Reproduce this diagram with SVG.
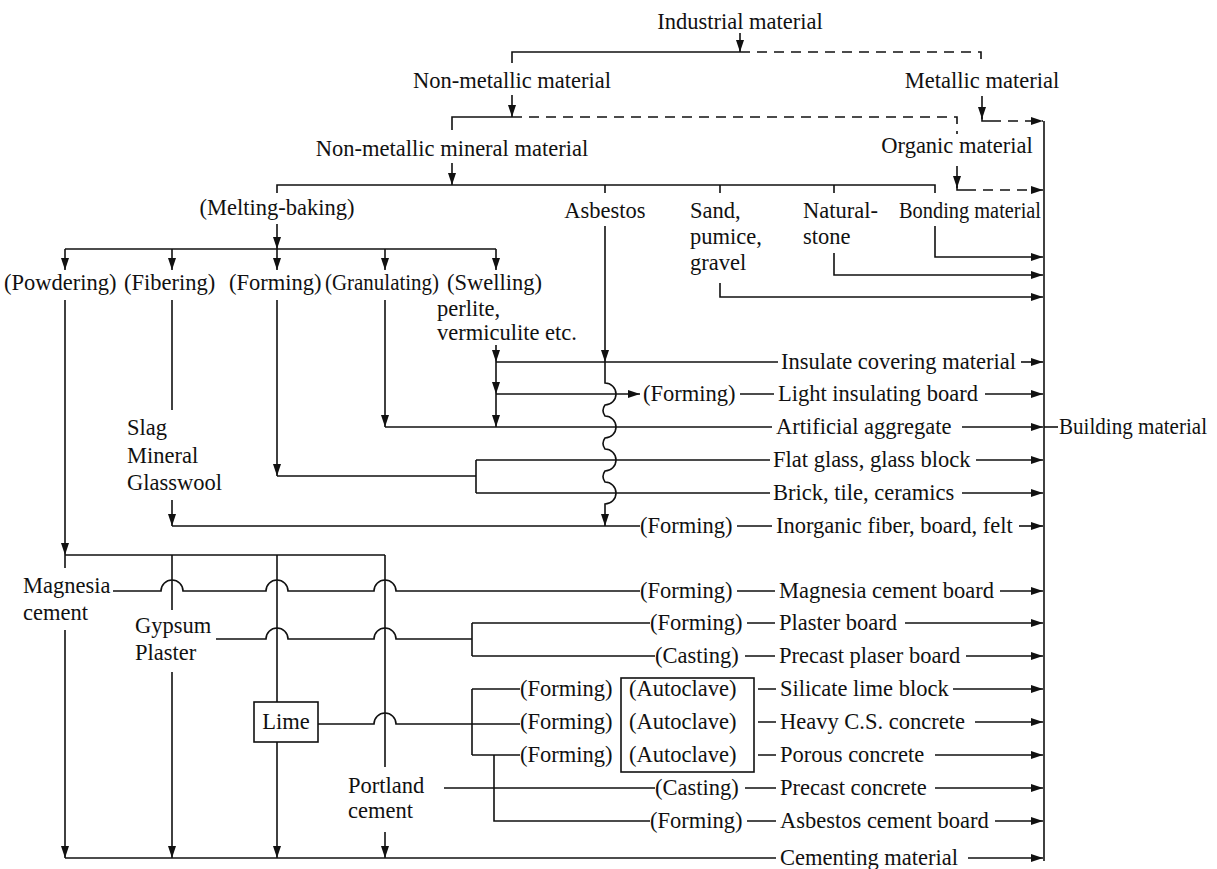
<svg xmlns="http://www.w3.org/2000/svg" width="1217" height="869" viewBox="0 0 1217 869">
<defs>
<marker id="ah" viewBox="0 0 12 8" refX="12" refY="4" markerWidth="12" markerHeight="8" markerUnits="userSpaceOnUse" orient="auto"><path d="M0,0 L12,4 L0,8 z" fill="#111"/></marker>
<style>
text{font-family:"Liberation Serif","Times New Roman",serif;font-size:22.5px;fill:#111}
.c{text-anchor:middle}
.ln{fill:none;stroke:#111;stroke-width:1.6}
.ar{fill:none;stroke:#111;stroke-width:1.6;marker-end:url(#ah)}
.ds{fill:none;stroke:#111;stroke-width:1.6;stroke-dasharray:10 7}
.dsa{fill:none;stroke:#111;stroke-width:1.6;stroke-dasharray:10 7;marker-end:url(#ah)}
.box{fill:none;stroke:#111;stroke-width:1.6}
</style>
</defs>
<rect width="1217" height="869" fill="#fff"/>

<g id="connectors">
<!-- top levels -->
<path class="ar" d="M740,33 V52"/>
<path class="ln" d="M512,63 V52 H740"/>
<path class="ds" d="M740,52 H981 V64"/>
<path class="ar" d="M512,95 V117"/>
<path class="ln" d="M452,130 V117 H512"/>
<path class="ds" d="M512,117 H957 V134"/>
<path class="ar" d="M982,96 V119"/>
<path class="ln" d="M982,117 V121 H991"/>
<path class="dsa" d="M991,121 H1043"/>
<path class="ar" d="M452,163 V185"/>
<path class="ar" d="M957,166 V188"/>
<path class="ln" d="M957,186 V190 H966"/>
<path class="dsa" d="M966,190 H1043"/>
<!-- mineral row -->
<path class="ln" d="M277,193 V185 H935 V193"/>
<path class="ln" d="M605,185 V193 M720,185 V193 M834,185 V193"/>
<path class="ar" d="M277,224 V249"/>
<path class="ln" d="M65,249 H496"/>
<path class="ar" d="M65,249 V270"/>
<path class="ar" d="M172,249 V270"/>
<path class="ar" d="M277,249 V270"/>
<path class="ar" d="M385,249 V270"/>
<path class="ar" d="M496,249 V270"/>
<path class="ar" d="M935,226 V257 H1043"/>
<path class="ar" d="M834,253 V275 H1043"/>
<path class="ar" d="M720,283 V297 H1043"/>
<!-- asbestos -->
<path class="ar" d="M605,226 V362"/>
<path class="ar" d="M605,362 V383 A11,11 0 0 1 605,405 Q601,410.5 605,416 A11,11 0 0 1 605,438 Q601,443.5 605,449 A11,11 0 0 1 605,471 Q601,476.5 605,482 A11,11 0 0 1 605,504 V526"/>
<!-- swelling -->
<path class="ar" d="M496,345 V362"/>
<path class="ar" d="M496,362 V394"/>
<path class="ar" d="M496,394 V427"/>
<path class="ln" d="M496,362 H778"/>
<path class="ar" d="M496,394 H640"/>
<path class="ln" d="M740,394 H774"/>
<!-- granulating -->
<path class="ar" d="M385,300 V427"/>
<path class="ln" d="M385,427 H772"/>
<path class="ln" d="M1044,427 H1058"/>
<!-- forming -->
<path class="ar" d="M277,300 V476"/>
<path class="ln" d="M277,476 H476 M476,460 V493 M476,460 H770 M476,493 H770"/>
<!-- fibering -->
<path class="ln" d="M172,300 V410"/>
<path class="ar" d="M172,500 V526"/>
<path class="ln" d="M172,526 H640 M737,526 H772"/>
<!-- powdering / cement bus -->
<path class="ar" d="M65,300 V555"/>
<path class="ln" d="M65,555 H385 M65,555 V568"/>
<path class="ln" d="M172,555 V610"/>
<path class="ar" d="M172,672 V858"/>
<path class="ln" d="M277,555 V702"/>
<path class="ar" d="M277,742 V858"/>
<path class="ln" d="M385,555 V767"/>
<path class="ar" d="M385,832 V858"/>
<path class="ar" d="M65,630 V858"/>
<!-- magnesia -->
<path class="ln" d="M113,591 H161 A11,11 0 0 1 183,591 H266 A11,11 0 0 1 288,591 H374 A11,11 0 0 1 396,591 H640 M737,591 H775"/>
<!-- gypsum -->
<path class="ln" d="M216,639 H266 A11,11 0 0 1 288,639 H374 A11,11 0 0 1 396,639 H472 M472,623 V656 M472,623 H650 M472,656 H655 M747,623 H775 M745,656 H775"/>
<!-- lime -->
<path class="ln" d="M318,724 H374 A11,11 0 0 1 396,724 H520 M472,689 V755 M472,689 H520 M472,755 H520"/>
<path class="ln" d="M758,689 H776 M758,722 H776 M758,755 H776"/>
<!-- portland / asbestos cement -->
<path class="ln" d="M444,788 H655 M745,788 H776"/>
<path class="ln" d="M494,755 V821 H650 M747,821 H776"/>
<!-- cementing bottom -->
<path class="ln" d="M65,858 H776"/>
<!-- right bus + arrows -->
<path class="ln" d="M1044,121 V861"/>
<path class="ar" d="M1021,362 H1043"/>
<path class="ar" d="M985,394 H1043"/>
<path class="ar" d="M962,427 H1043"/>
<path class="ar" d="M976,460 H1043"/>
<path class="ar" d="M962,493 H1043"/>
<path class="ar" d="M1019,526 H1043"/>
<path class="ar" d="M1000,591 H1043"/>
<path class="ar" d="M905,623 H1043"/>
<path class="ar" d="M966,656 H1043"/>
<path class="ar" d="M953,689 H1043"/>
<path class="ar" d="M975,722 H1043"/>
<path class="ar" d="M935,755 H1043"/>
<path class="ar" d="M935,788 H1043"/>
<path class="ar" d="M995,821 H1043"/>
<path class="ar" d="M968,858 H1043"/>
</g>

<g id="n-industrial"><text class="c" x="740" y="29">Industrial material</text></g>
<g id="n-nonmetallic"><text class="c" x="512" y="88">Non-metallic material</text></g>
<g id="n-metallic"><text class="c" x="982" y="88">Metallic material</text></g>
<g id="n-nonmetallic-mineral"><text class="c" x="452" y="156">Non-metallic mineral material</text></g>
<g id="n-organic"><text class="c" x="957" y="153">Organic material</text></g>
<g id="n-melting"><text class="c" x="277" y="215">(Melting-baking)</text></g>
<g id="n-asbestos"><text class="c" x="605" y="218">Asbestos</text></g>
<g id="n-sand"><text x="690" y="218">Sand,</text><text x="690" y="244">pumice,</text><text x="690" y="270">gravel</text></g>
<g id="n-natural"><text x="803" y="218">Natural-</text><text x="803" y="244">stone</text></g>
<g id="n-bonding"><text x="899" y="218" textLength="142" lengthAdjust="spacingAndGlyphs">Bonding material</text></g>
<g id="n-powdering"><text x="4" y="290">(Powdering)</text></g>
<g id="n-fibering"><text x="124" y="290">(Fibering)</text></g>
<g id="n-forming"><text x="229" y="290">(Forming)</text></g>
<g id="n-granulating"><text x="325" y="290" textLength="114" lengthAdjust="spacingAndGlyphs">(Granulating)</text></g>
<g id="n-swelling"><text x="447" y="290">(Swelling)</text><text x="437" y="316">perlite,</text><text x="437" y="340">vermiculite etc.</text></g>
<g id="n-slag"><text x="127" y="435">Slag</text><text x="127" y="463">Mineral</text><text x="127" y="490">Glasswool</text></g>
<g id="n-magnesia"><text x="23" y="593">Magnesia</text><text x="23" y="620">cement</text></g>
<g id="n-gypsum"><text x="135" y="633">Gypsum</text><text x="135" y="660">Plaster</text></g>
<g id="n-lime"><rect class="box" x="254" y="702" width="64" height="40"/><text class="c" x="286" y="729">Lime</text></g>
<g id="n-portland"><text x="348" y="793">Portland</text><text x="348" y="818">cement</text></g>

<g id="n-insulate"><text x="781" y="369">Insulate covering material</text></g>
<g id="n-light"><text x="643" y="401">(Forming)</text><text x="778" y="401">Light insulating board</text></g>
<g id="n-artificial"><text x="776" y="434">Artificial aggregate</text></g>
<g id="n-building"><text x="1059" y="434" textLength="148" lengthAdjust="spacingAndGlyphs">Building material</text></g>
<g id="n-flatglass"><text x="773" y="467">Flat glass, glass block</text></g>
<g id="n-brick"><text x="773" y="500">Brick, tile, ceramics</text></g>
<g id="n-inorganic"><text x="640" y="533">(Forming)</text><text x="776" y="533">Inorganic fiber, board, felt</text></g>
<g id="n-magboard"><text x="640" y="598">(Forming)</text><text x="779" y="598">Magnesia cement board</text></g>
<g id="n-plasterboard"><text x="650" y="630">(Forming)</text><text x="779" y="630">Plaster board</text></g>
<g id="n-precastplaser"><text x="655" y="663">(Casting)</text><text x="779" y="663">Precast plaser board</text></g>
<g id="n-autoclave"><rect class="box" x="621" y="678" width="133" height="94"/><text x="629" y="696">(Autoclave)</text><text x="629" y="729">(Autoclave)</text><text x="629" y="762">(Autoclave)</text></g>
<g id="n-silicate"><text x="520" y="696">(Forming)</text><text x="780" y="696">Silicate lime block</text></g>
<g id="n-heavy"><text x="520" y="729">(Forming)</text><text x="780" y="729">Heavy C.S. concrete</text></g>
<g id="n-porous"><text x="520" y="762">(Forming)</text><text x="780" y="762">Porous concrete</text></g>
<g id="n-precastconcrete"><text x="655" y="795">(Casting)</text><text x="780" y="795">Precast concrete</text></g>
<g id="n-asbestoscement"><text x="650" y="828">(Forming)</text><text x="780" y="828">Asbestos cement board</text></g>
<g id="n-cementing"><text x="780" y="865">Cementing material</text></g>
</svg>
